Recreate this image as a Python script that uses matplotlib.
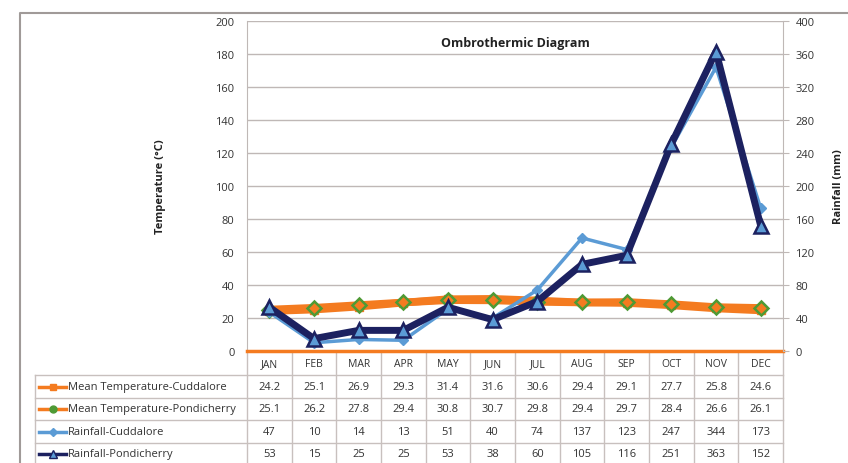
import numpy as np
import matplotlib
matplotlib.use("Agg")
import matplotlib.pyplot as plt

plt.rcParams['font.family'] = ['Open Sans', 'DejaVu Sans']

months = ['JAN', 'FEB', 'MAR', 'APR', 'MAY', 'JUN', 'JUL', 'AUG', 'SEP', 'OCT', 'NOV', 'DEC']
temp_cuddalore = [24.2, 25.1, 26.9, 29.3, 31.4, 31.6, 30.6, 29.4, 29.1, 27.7, 25.8, 24.6]
temp_pondicherry = [25.1, 26.2, 27.8, 29.4, 30.8, 30.7, 29.8, 29.4, 29.7, 28.4, 26.6, 26.1]
rain_cuddalore = [47, 10, 14, 13, 51, 40, 74, 137, 123, 247, 344, 173]
rain_pondicherry = [53, 15, 25, 25, 53, 38, 60, 105, 116, 251, 363, 152]
series_names = ['Mean Temperature-Cuddalore', 'Mean Temperature-Pondicherry',
                'Rainfall-Cuddalore', 'Rainfall-Pondicherry']

ORANGE = '#F47B20'
GREEN = '#4E9A35'
LBLUE = '#5B9BD5'
NAVY = '#1C2160'
GRID = '#BFB8B6'
TXT = '#333333'

W, H = 848, 464
fig = plt.figure(figsize=(W / 100, H / 100), dpi=100)

# overlay in pixel coordinates for frame + data table
bg = fig.add_axes([0, 0, 1, 1], zorder=-1)
bg.set_xlim(0, W)
bg.set_ylim(H, 0)
bg.axis('off')

x0, x1 = 247, 783
y_top, y_bot = 22, 352
ax = fig.add_axes([x0 / W, 1 - y_bot / H, (x1 - x0) / W, (y_bot - y_top) / H])
ax.patch.set_alpha(0)
x = np.arange(len(months))

ax.plot(x, temp_cuddalore, color=ORANGE, lw=5.5, marker='s', ms=6,
        mfc=ORANGE, mec=ORANGE, zorder=3)
ax.plot(x, temp_pondicherry, color=ORANGE, lw=5.5, marker='D', ms=7,
        mfc=ORANGE, mec=GREEN, mew=1.8, zorder=4)
ax.set_xlim(-0.5, len(months) - 0.5)
ax.set_ylim(0, 200)
ax.set_yticks(np.arange(0, 201, 20))
ax.set_xticks([])
ax.grid(axis='y', color=GRID, lw=1)
ax.set_axisbelow(True)
for s in ['top', 'right']:
    ax.spines[s].set_visible(False)
ax.spines['left'].set_color(GRID)
ax.spines['bottom'].set_color(ORANGE)
ax.spines['bottom'].set_linewidth(2.5)
ax.tick_params(axis='y', length=0, labelsize=8, labelcolor=TXT, pad=9)

ax2 = ax.twinx()
ax2.plot(x, rain_cuddalore, color=LBLUE, lw=2.5, marker='D', ms=5,
         mfc=LBLUE, mec=LBLUE, zorder=3)
ax2.plot(x, rain_pondicherry, color=NAVY, lw=5, marker='^', ms=10,
         mfc=LBLUE, mec=NAVY, mew=1.8, zorder=4)
ax2.set_ylim(0, 400)
ax2.set_yticks(np.arange(0, 401, 40))
for s in ['top', 'left', 'bottom']:
    ax2.spines[s].set_visible(False)
ax2.spines['right'].set_color(GRID)
ax2.tick_params(axis='y', length=4, color=GRID, labelsize=8, labelcolor=TXT, pad=5)

ax.text(0.5, 0.935, 'Ombrothermic Diagram', transform=ax.transAxes,
        ha='center', va='center', fontsize=9, fontweight='bold', color='#222222')

bg.text(160, 187, 'Temperature (°C)', rotation=90, ha='center', va='center',
        fontsize=8, fontweight='bold', color='#222222')
bg.text(839, 187, 'Rainfall (mm)', rotation=90, ha='center', va='center',
        fontsize=8, fontweight='bold', color='#222222')

# chart area frame
bg.plot([20, 20, W + 5], [H + 5, 14, 14], color='#A09A98', lw=1.5)

# data table
colw = (x1 - x0) / len(months)
row_lines = [376, 399, 421, 444, 466]
rows_y = [365, 387.5, 410, 432.5, 455]
tc = '#C8C0BE'
for yl in row_lines:
    bg.plot([35, x1], [yl, yl], color=tc, lw=1)
for i in range(len(months) + 1):
    xv = x0 + i * colw
    bg.plot([xv, xv], [y_bot, H], color=tc, lw=1)
bg.plot([35, 35], [376, H], color=tc, lw=1)

for i, m in enumerate(months):
    bg.text(x0 + (i + 0.5) * colw, rows_y[0], m, ha='center', va='center',
            fontsize=7.5, color=TXT)

table_rows = [temp_cuddalore, temp_pondicherry, rain_cuddalore, rain_pondicherry]
keys = [dict(color=ORANGE, lw=2.5, marker='s', ms=5, mfc=ORANGE, mec=ORANGE),
        dict(color=ORANGE, lw=2.5, marker='o', ms=5, mfc=GREEN, mec=GREEN),
        dict(color=LBLUE, lw=2.5, marker='D', ms=4, mfc=LBLUE, mec=LBLUE),
        dict(color=NAVY, lw=2.5, marker='^', ms=6, mfc=LBLUE, mec=NAVY)]
for r, (name, vals, k) in enumerate(zip(series_names, table_rows, keys)):
    yy = rows_y[r + 1]
    bg.plot([39, 66], [yy, yy], color=k['color'], lw=k['lw'])
    bg.plot([52.5], [yy], linestyle='none', marker=k['marker'], ms=k['ms'],
            mfc=k['mfc'], mec=k['mec'])
    bg.text(68, yy, name, ha='left', va='center', fontsize=8, color=TXT)
    for i, v in enumerate(vals):
        bg.text(x0 + (i + 0.5) * colw, yy, f'{v:g}', ha='center', va='center',
                fontsize=8, color=TXT)

fig.savefig('out.png', dpi=100)
